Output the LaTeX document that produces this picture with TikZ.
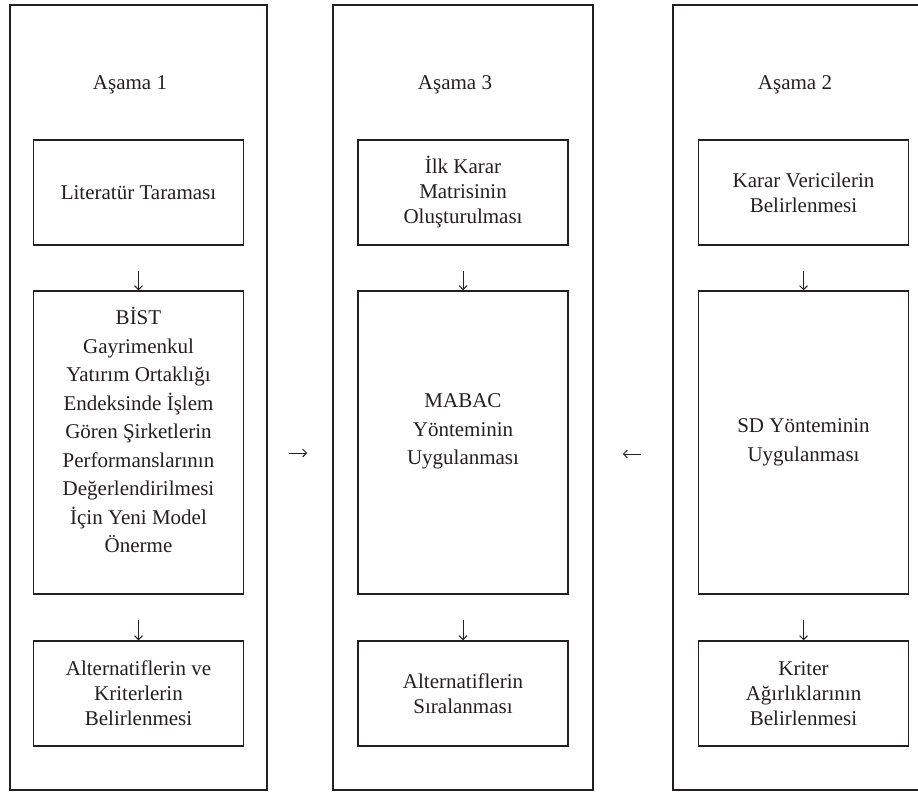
\documentclass[tikz,border=0pt]{standalone}
\usepackage{fontspec}
\setmainfont{Liberation Serif}
\usetikzlibrary{arrows.meta}
\definecolor{inkgray}{RGB}{35,31,32}

\tikzset{
  stage/.style={draw=inkgray, line width=1.5pt, minimum width=260pt, minimum height=785pt, inner sep=0pt},
  task/.style={draw=inkgray, line width=1.5pt, minimum width=210pt, align=center, inner sep=0pt,
    font=\fontsize{21}{25}\selectfont, text=inkgray},
  bigtask/.style={task, minimum height=303pt, font=\fontsize{21}{28.5}\selectfont},
  title/.style={anchor=base, font=\fontsize{21}{25}\selectfont, text=inkgray},
  flow/.style={-{Straight Barb[length=4pt,width=8pt]}, line width=0.9pt, draw=inkgray},
}

\begin{document}
\begin{tikzpicture}[x=1pt, y=-1pt]
    \clip (0,0) rectangle (918,792);

    % stage frames
    \node[stage, minimum width=257pt] (s1) at (138.5,397.5) {};
    \node[stage] (s3) at (463,397.5) {};
    \node[stage] (s2) at (803,397.5) {};

    % titles
    \node[title] (t1) at (130,89) {Aşama 1};
    \node[title] (t3) at (455,89) {Aşama 3};
    \node[title] (t2) at (795,89) {Aşama 2};

    % stage 1
    \node[task, minimum height=105pt] (lit) at (138.5,192.5) {Literatür Taraması};
    \node[bigtask, text depth=25pt] (model) at (138.5,442.5)
        {BİST\\Gayrimenkul\\Yatırım Ortaklığı\\Endeksinde İşlem\\Gören Şirketlerin\\Performanslarının\\Değerlendirilmesi\\İçin Yeni Model\\Önerme};
    \node[task, minimum height=105pt] (alt) at (138.5,693.5) {Alternatiflerin ve\\Kriterlerin\\Belirlenmesi};

    % stage 3
    \node[task, minimum height=105pt] (mat) at (463,192.5) {İlk Karar\\Matrisinin\\Oluşturulması};
    \node[bigtask, text depth=26pt] (mabac) at (463,442.5) {MABAC\\Yönteminin\\Uygulanması};
    \node[task, minimum height=105pt] (rank) at (463,693.5) {Alternatiflerin\\Sıralanması};

    % stage 2
    \node[task, minimum height=105pt] (dm) at (803.5,192.5) {Karar Vericilerin\\Belirlenmesi};
    \node[bigtask] (sd) at (803.5,442.5) {SD Yönteminin\\Uygulanması};
    \node[task, minimum height=105pt] (wgt) at (803.5,693.5) {Kriter\\Ağırlıklarının\\Belirlenmesi};

    % arrows inside the stages
    \foreach \a/\b in {lit/model, model/alt, mat/mabac, mabac/rank, dm/sd, sd/wgt} {
        \draw[flow, shorten <=25pt] (\a) -- (\b);
    }

    % arrows between the stages
    \coordinate (p1) at ([yshift=-55.5pt]s1.east);
    \coordinate (p3w) at ([yshift=-55.5pt]s3.west);
    \coordinate (p3e) at ([yshift=-56.5pt]s3.east);
    \coordinate (p2) at ([yshift=-56.5pt]s2.west);
    \draw[flow, shorten <=21pt, shorten >=25pt] (p1) -- (p3w);
    \draw[flow, shorten <=31pt, shorten >=29pt] (p2) -- (p3e);
\end{tikzpicture}
\end{document}
